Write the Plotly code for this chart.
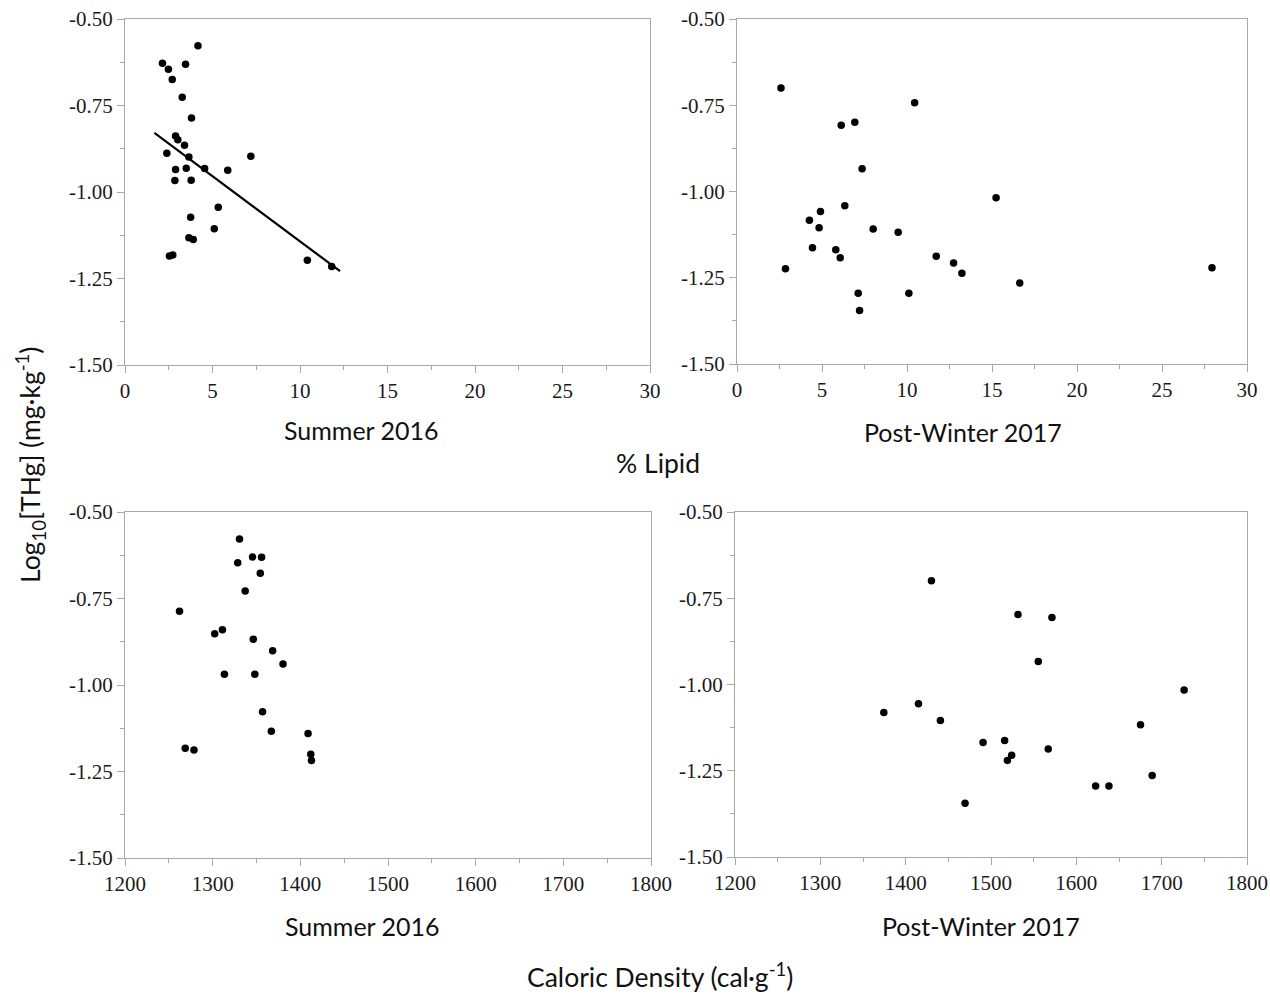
import plotly.graph_objects as go

# % lipid vs log10 THg, Summer 2016
lipid_summer = [4.17, 2.14, 2.48, 3.46, 2.70, 3.27, 3.80, 2.89, 3.02, 3.40, 2.39, 3.65, 7.19, 2.89,
                3.50, 4.55, 5.87, 2.85, 3.78, 5.33, 3.75, 5.10, 3.65, 3.90, 2.54, 2.73, 10.42, 11.81]
thg_lipid_summer = [-0.577, -0.628, -0.645, -0.631, -0.675, -0.726, -0.786, -0.838, -0.849, -0.865,
                    -0.888, -0.899, -0.897, -0.935, -0.931, -0.932, -0.937, -0.967, -0.966, -1.044,
                    -1.073, -1.106, -1.132, -1.137, -1.185, -1.182, -1.197, -1.215]

# regression line endpoints for the summer lipid relationship
fit_lipid_x = [1.68, 12.29]
fit_lipid_y = [-0.829, -1.229]

# % lipid vs log10 THg, Post-Winter 2017
lipid_winter = [2.59, 2.85, 4.26, 4.91, 4.83, 4.44, 5.81, 6.07, 6.13, 6.93, 6.34, 7.36, 7.13, 7.21,
                8.01, 9.48, 10.45, 10.11, 11.72, 12.74, 13.23, 15.24, 16.63, 27.94]
thg_lipid_winter = [-0.700, -1.224, -1.083, -1.058, -1.105, -1.163, -1.169, -1.192, -0.808, -0.799,
                    -1.041, -0.934, -1.295, -1.345, -1.109, -1.118, -0.743, -1.295, -1.188, -1.207,
                    -1.237, -1.018, -1.265, -1.221]

# caloric density vs log10 THg, Summer 2016
cal_summer = [1330.6, 1328.6, 1345.5, 1355.8, 1354.3, 1337.1, 1262.2, 1302.3, 1311.1, 1346.3, 1368.4,
              1380.2, 1313.4, 1348.1, 1356.9, 1366.9, 1268.7, 1278.7, 1408.8, 1411.9, 1412.7]
thg_cal_summer = [-0.578, -0.647, -0.630, -0.631, -0.677, -0.728, -0.787, -0.852, -0.840, -0.868,
                  -0.901, -0.939, -0.969, -0.969, -1.077, -1.134, -1.183, -1.188, -1.140, -1.200, -1.218]

# caloric density vs log10 THg, Post-Winter 2017
cal_winter = [1430.2, 1531.6, 1571.4, 1555.4, 1726.3, 1374.4, 1415.0, 1440.7, 1675.2, 1490.7,
              1516.0, 1524.2, 1519.2, 1567.1, 1622.6, 1638.2, 1688.9, 1469.6]
thg_cal_winter = [-0.699, -0.797, -0.806, -0.933, -1.016, -1.081, -1.056, -1.104, -1.117, -1.168,
                  -1.162, -1.205, -1.220, -1.187, -1.294, -1.294, -1.264, -1.344]

lipid_ticks = [0, 5, 10, 15, 20, 25, 30]
cal_ticks = [1200, 1300, 1400, 1500, 1600, 1700, 1800]
thg_ticks = [-1.50, -1.25, -1.00, -0.75, -0.50]
thg_tick_text = ["%.2f" % v for v in thg_ticks]

subtitles = ["Summer 2016", "Post-Winter 2017", "Summer 2016", "Post-Winter 2017"]
lipid_title = "% Lipid"
cal_title = "Caloric Density (cal·g<sup>-1</sup>)"
y_title = "Log<sub>10</sub>[THg] (mg·kg<sup>-1</sup>)"

W, H = 1270, 995
AXIS_GREY = "#a8a8a8"
TICK_FONT = dict(family="Liberation Serif", size=21, color="#1a1a1a")
CAPTION_FONT = dict(family="Lato", size=25, color="#111")
TITLE_FONT = dict(family="Lato", size=26.5, color="#111")

marker = dict(color="black", size=7.5)

fig = go.Figure()
fig.add_trace(go.Scatter(x=lipid_summer, y=thg_lipid_summer, mode="markers", marker=marker,
                         xaxis="x", yaxis="y"))
fig.add_trace(go.Scatter(x=fit_lipid_x, y=fit_lipid_y, mode="lines",
                         line=dict(color="black", width=2.2), xaxis="x", yaxis="y"))
fig.add_trace(go.Scatter(x=lipid_winter, y=thg_lipid_winter, mode="markers", marker=marker,
                         xaxis="x2", yaxis="y2"))
fig.add_trace(go.Scatter(x=cal_summer, y=thg_cal_summer, mode="markers", marker=marker,
                         xaxis="x3", yaxis="y3"))
fig.add_trace(go.Scatter(x=cal_winter, y=thg_cal_winter, mode="markers", marker=marker,
                         xaxis="x4", yaxis="y4"))

# panel rectangles in pixels: (left, right, top, bottom)
panels = [(125, 650, 19, 365), (737, 1247, 19, 364), (125, 651, 512, 858), (735, 1247, 512, 857)]


def x_axis(rng, ticks, minor_step, dom, anchor):
    return dict(domain=dom, range=rng, anchor=anchor, tickvals=ticks, automargin=False,
                ticks="outside", ticklen=7, tickwidth=1, tickcolor=AXIS_GREY,
                minor=dict(dtick=minor_step, ticks="outside", ticklen=4, tickcolor=AXIS_GREY, showgrid=False),
                showline=True, linecolor=AXIS_GREY, linewidth=1.2, mirror=True,
                showgrid=False, zeroline=False, tickfont=TICK_FONT)


def y_axis(dom, anchor):
    return dict(domain=dom, range=[-1.5, -0.5], anchor=anchor, automargin=False,
                tickvals=thg_ticks, ticktext=thg_tick_text,
                ticks="outside", ticklen=7, tickwidth=1, tickcolor=AXIS_GREY,
                minor=dict(dtick=0.125, tick0=-0.5, ticks="outside", ticklen=4, tickcolor=AXIS_GREY, showgrid=False),
                showline=True, linecolor=AXIS_GREY, linewidth=1.2, mirror=True,
                showgrid=False, zeroline=False, tickfont=TICK_FONT)


layout_axes = {}
x_specs = [([0, 30], lipid_ticks, 2.5), ([0, 30], lipid_ticks, 2.5),
           ([1200, 1800], cal_ticks, 50), ([1200, 1800], cal_ticks, 50)]
for i, ((l, r, t, b), (rng, ticks, mstep)) in enumerate(zip(panels, x_specs)):
    suffix = "" if i == 0 else str(i + 1)
    xdom = [l / W, r / W]
    ydom = [1 - b / H, 1 - t / H]
    layout_axes["xaxis" + suffix] = x_axis(rng, ticks, mstep, xdom, "y" + suffix)
    layout_axes["yaxis" + suffix] = y_axis(ydom, "x" + suffix)

fig.update_layout(
    width=W, height=H, margin=dict(l=0, r=0, t=0, b=0, autoexpand=False),
    paper_bgcolor="white", plot_bgcolor="white", showlegend=False,
    **layout_axes,
)

# panel captions under each x axis
caption_pos = [(361, 430), (963, 432), (362, 926), (981, 926)]
for text, (cx, cy) in zip(subtitles, caption_pos):
    fig.add_annotation(text=text, x=cx / W, y=1 - cy / H, xref="paper", yref="paper",
                       showarrow=False, font=CAPTION_FONT, xanchor="center", yanchor="middle")

fig.add_annotation(text=lipid_title, x=658 / W, y=1 - 463 / H, xref="paper", yref="paper",
                   showarrow=False, font=TITLE_FONT, xanchor="center", yanchor="middle")
fig.add_annotation(text=cal_title, x=660 / W, y=1 - 975 / H, xref="paper", yref="paper",
                   showarrow=False, font=TITLE_FONT, xanchor="center", yanchor="middle")
fig.add_annotation(text=y_title, x=30 / W, y=1 - 465 / H, xref="paper", yref="paper",
                   showarrow=False, font=TITLE_FONT, textangle=-90, xanchor="center", yanchor="middle")

fig.write_html("out.html")
